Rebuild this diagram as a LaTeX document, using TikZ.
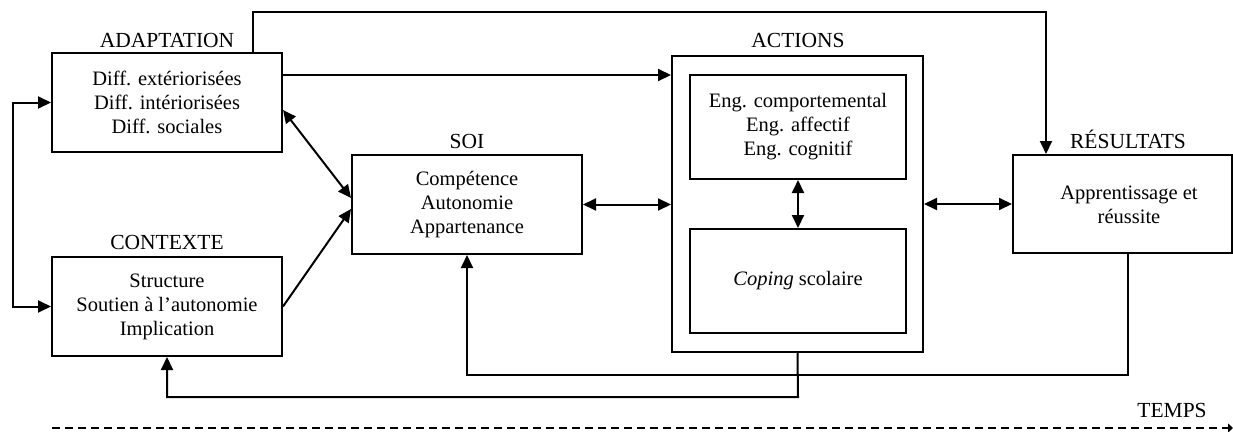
\documentclass[tikz,border=0pt]{standalone}
\usepackage{fontspec}
\setmainfont{Liberation Serif}
\usetikzlibrary{arrows.meta,calc}
\begin{document}
\begin{tikzpicture}[x=1pt,y=-1pt,
  line width=2pt,
  >={Triangle[length=13pt,width=12pt]},
  box/.style={draw,line width=2pt,align=center,inner sep=0pt,
    font=\fontsize{20.5}{24}\selectfont},
  head/.style={font=\fontsize{21.5}{24}\selectfont,inner sep=0pt},
  body/.style={font=\fontsize{20.5}{24}\selectfont,align=center,inner sep=0pt}]
\useasboundingbox (0,0) rectangle (1233,431);

% boxes
\node[box,minimum width=230pt,minimum height=99pt] (adapt) at (167,102.5)
  {Diff. extériorisées\\Diff. intériorisées\\Diff. sociales};
\node[box,minimum width=230pt,minimum height=99pt] (cont) at (167,306.5)
  {Structure\\Soutien à l’autonomie\\Implication};
\node[box,minimum width=230pt,minimum height=99pt] (soi) at (467,204.5)
  {Compétence\\Autonomie\\Appartenance};
\node[box,minimum width=251pt,minimum height=296pt] (act) at (797.5,204) {};
\node[box,minimum width=216pt,minimum height=104pt] (eng) at (798,127)
  {Eng. comportemental\\Eng. affectif\\Eng. cognitif};
\node[box,minimum width=216pt,minimum height=104pt] (cop) at (798,281)
  {\textit{Coping} scolaire};
\node[box,minimum width=219pt,minimum height=98pt] (res) at (1122.5,204) {};
\node[body] (restxt) at (1129,205) {Apprentissage et\\réussite};

% headings
\node[head] (hadapt) at (167,40) {ADAPTATION};
\node[head] (hcont) at (167,242) {CONTEXTE};
\node[head] (hsoi) at (467,141) {SOI};
\node[head] (hact) at (798,40) {ACTIONS};
\node[head] (hres) at (1128,139) {RÉSULTATS};
\node[head] (htemps) at (1172,410) {TEMPS};

% routing points
\coordinate (lft) at (13,0);
\coordinate (tstart) at (52,428);
\coordinate (tend) at (1233,428);

% connectors
\draw[->] (adapt.north east -| 253,0) -- (253,12) -- (1046,12) -- (1046,0 |- res.north);
\draw[->] (adapt.east |- 0,75) -- (act.west |- 0,75);
\draw[<->] (adapt.west) -- (lft |- adapt.west) -- (lft |- cont.west) -- (cont.west);
\draw[<->] ($(adapt.east)+(0,7.5)$) -- ($(soi.west)+(0,-6.5)$);
\draw[->] (cont.east) -- ($(soi.west)+(0,4.5)$);
\draw[<->] (soi.east) -- (soi.east -| act.west);
\draw[<->] (eng.south) -- (cop.north);
\draw[<->] (act.east) -- (act.east -| res.west);
\draw[->] (res.south -| 1128,0) -- (1128,375) -- (467,375) -- (soi.south);
\draw[->] (act.south) -- (798,397) -- (167,397) -- (cont.south);
\draw[dash pattern=on 8pt off 5pt,line width=2pt,
  -{Triangle[length=5pt,width=9pt]}] (tstart) -- (tend);
\end{tikzpicture}
\end{document}
